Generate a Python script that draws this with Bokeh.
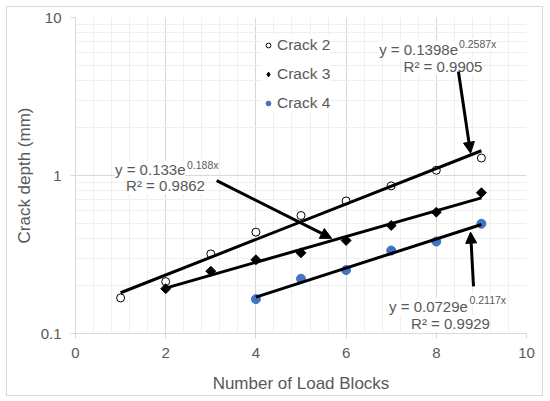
import numpy as np
from bokeh.plotting import figure
from bokeh.models import (Label, Arrow, NormalHead, Legend, LegendItem, FixedTicker,
                          SingleIntervalTicker, CustomJSTickFormatter)
from bokeh.embed import file_html
from bokeh.resources import INLINE

# ---- data ----
crack2_x = [1, 2, 3, 4, 5, 6, 7, 8, 9]
crack2_y = [0.168, 0.213, 0.319, 0.438, 0.558, 0.69, 0.86, 1.08, 1.29]
crack3_x = [2, 3, 4, 5, 6, 7, 8, 9]
crack3_y = [0.192, 0.248, 0.293, 0.324, 0.388, 0.483, 0.586, 0.778]
crack4_x = [4, 5, 6, 7, 8, 9]
crack4_y = [0.165, 0.222, 0.252, 0.335, 0.382, 0.495]

# exponential trendline coefficients (a, b, R^2) as printed on the chart
fit2 = (0.1398, 0.2587, 0.9905)
fit3 = (0.133, 0.188, 0.9862)
fit4 = (0.0729, 0.2117, 0.9929)

series_names = ["Crack 2", "Crack 3", "Crack 4"]
x_ticks = [0, 2, 4, 6, 8, 10]
y_ticks = [0.1, 1, 10]
y_minor = [0.2, 0.3, 0.4, 0.5, 0.6, 0.7, 0.8, 0.9, 2, 3, 4, 5, 6, 7, 8, 9]

FONT = "Liberation Sans"
TXT = "#595959"
GRID = "#d9d9d9"
BLUE = "#4472C4"

p = figure(frame_width=451, frame_height=316, y_axis_type="log",
           x_range=(0, 10), y_range=(0.1, 10),
           min_border_left=68, min_border_right=16, min_border_top=10, min_border_bottom=60,
           output_backend="svg", toolbar_location=None)
p.margin = (6, 0, 0, 6)
p.styles = {"border": "1px solid #d9d9d9"}
p.outline_line_color = None
p.background_fill_color = "white"
p.border_fill_color = "white"

# axes
p.xaxis.ticker = SingleIntervalTicker(interval=2, num_minor_ticks=5)
p.yaxis.ticker = FixedTicker(ticks=y_ticks, minor_ticks=y_minor)
p.yaxis.formatter = CustomJSTickFormatter(code="return tick < 1 ? tick.toFixed(1) : tick.toFixed(0);")
for ax in (p.xaxis, p.yaxis):
    ax.axis_line_color = GRID
    ax.major_tick_line_color = GRID
    ax.major_tick_out = 5
    ax.major_tick_in = 0
    ax.minor_tick_line_color = None
    ax.major_label_text_font = FONT
    ax.major_label_text_font_size = "15px"
    ax.major_label_text_color = TXT
    ax.axis_label_text_font = FONT
    ax.axis_label_text_font_size = "17px"
    ax.axis_label_text_color = TXT
    ax.axis_label_text_font_style = "normal"
p.xaxis.axis_label = "Number of Load Blocks"
p.yaxis.axis_label = "Crack depth (mm)"
p.xaxis.major_label_standoff = 9
p.yaxis.major_label_standoff = 9
p.xaxis.axis_label_standoff = 13
p.yaxis.axis_label_standoff = 4

# grids
p.xgrid.ticker = p.xaxis.ticker
p.ygrid.ticker = p.yaxis.ticker
for g in (p.xgrid, p.ygrid):
    g.grid_line_color = GRID
    g.minor_grid_line_color = "#efefef"

# markers
r2 = p.scatter(crack2_x, crack2_y, marker="circle", size=8, fill_color="white",
               line_color="black", line_width=1)
r3 = p.scatter(crack3_x, crack3_y, marker="square", angle=np.pi / 4, size=7,
               fill_color="black", line_color="black")
r4 = p.scatter(crack4_x, crack4_y, marker="circle", size=9, fill_color=BLUE, line_color=BLUE)
# legend-only glyph for the diamond (legend ignores marker angle)
r3_leg = p.scatter([np.nan], [np.nan], marker="diamond", size=11,
                   fill_color="black", line_color="black")

# trendlines from the printed coefficients
for xs, (a, b, _) in ((crack2_x, fit2), (crack3_x, fit3), (crack4_x, fit4)):
    tx = np.array([xs[0], xs[-1]], dtype=float)
    p.line(tx, a * np.exp(b * tx), line_color="black", line_width=3)

# legend
legend = Legend(items=[LegendItem(label=series_names[0], renderers=[r2]),
                       LegendItem(label=series_names[1], renderers=[r3_leg]),
                       LegendItem(label=series_names[2], renderers=[r4])],
                location=(187, 220), orientation="vertical",
                glyph_width=12, glyph_height=20, label_height=20, spacing=9,
                label_standoff=3, padding=4, margin=0,
                border_line_color=None, background_fill_color="white", background_fill_alpha=1,
                label_text_font=FONT, label_text_font_size="15.5px", label_text_color=TXT)
p.add_layout(legend)

# trendline equation labels
def eq_label(a, b, r2v, xr, ybase, xsup, ysup, xc, yr):
    common = dict(text_font=FONT, text_color=TXT, text_baseline="alphabetic",
                  background_fill_color="white")
    p.add_layout(Label(x=xr, y=ybase, text=f"y = {a}e", text_align="right",
                       text_font_size="15px", **common))
    p.add_layout(Label(x=xsup, y=ysup, text=f"{b}x", text_align="left",
                       text_font_size="10.5px", **common))
    p.add_layout(Label(x=xc, y=yr, text=f"R² = {r2v}", text_align="center",
                       text_font_size="15px", **common))

eq_label(*fit3, 2.439, 1.09, 2.472, 1.17, 1.996, 0.865)
eq_label(*fit2, 8.481, 6.27, 8.503, 6.75, 8.149, 4.92)
eq_label(*fit4, 8.70, 0.1483, 8.736, 0.1634, 8.315, 0.1152)

# arrows
for xs, ys, xe, ye in ((3.13, 0.929, 5.68, 0.40),
                       (8.49, 4.55, 8.76, 1.384),
                       (8.825, 0.1985, 8.76, 0.438)):
    p.add_layout(Arrow(end=NormalHead(size=11, fill_color="black", line_color="black"),
                       x_start=xs, y_start=ys, x_end=xe, y_end=ye,
                       line_color="black", line_width=3))

open("out.html", "w").write(file_html(p, INLINE))
